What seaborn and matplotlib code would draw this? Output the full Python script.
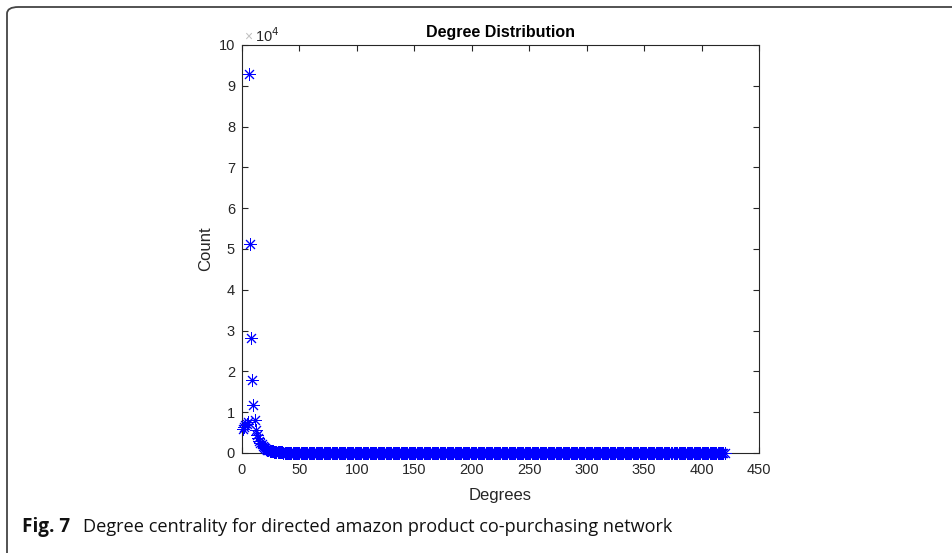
import matplotlib
matplotlib.use("Agg")
import matplotlib.pyplot as plt
from matplotlib.patches import FancyBboxPatch
import numpy as np
import pandas as pd
import seaborn as sns

# Node counts per total degree (amazon co-purchasing network)
head_counts = [
    5900, 6300, 6800, 7200, 7600, 92900, 51200, 28300, 17900, 11800,
    8100, 5600, 4500, 3700, 3000, 2500, 2100, 1750, 1450, 1200,
    1000, 850, 720, 610, 520, 440, 380, 320, 280, 240,
    210, 185, 165, 148, 132, 118, 106, 95, 86, 78,
    71, 65, 60, 55, 50, 46, 43, 40, 37, 34,
    32, 30, 28, 26, 24, 23, 21, 20, 19, 18,
    17, 16, 15, 14, 14, 13, 12, 12, 11, 11,
    10, 10, 9, 9, 9, 8, 8, 8, 7, 7,
    7, 7, 6, 6, 6, 6, 5, 5, 5, 5, 5, 5, 4, 4, 4, 4, 4, 4, 4, 4,
]
tail_counts = [
    3, 4, 3, 3, 4, 3, 3, 3, 3, 3, 3, 2, 3, 3, 3, 2, 3, 3, 2, 3,
    2, 3, 2, 2, 3, 2, 2, 2, 3, 2, 2, 2, 2, 2, 2, 2, 2, 2, 2, 2,
    2, 2, 2, 1, 2, 2, 2, 1, 2, 2, 2, 1, 2, 2, 1, 2, 2, 1, 2, 2,
    1, 2, 1, 2, 1, 1, 2, 1, 1, 2, 1, 1, 2, 1, 1, 1, 2, 1, 1, 1,
    1, 1, 2, 1, 1, 1, 1, 1, 2, 1, 1, 1, 1, 1, 1, 2, 1, 1, 1, 1,
    1, 1, 1, 1, 2, 1, 1, 1, 1, 1, 1, 1, 1, 2, 1, 1, 1, 1, 1, 1,
    1, 1, 1, 1, 1, 1, 2, 1, 1, 1, 1, 1, 1, 1, 1, 1, 1, 1, 2, 1,
    1, 1, 1, 1, 1, 1, 1, 1, 1, 1, 1, 2, 1, 1, 1, 1, 1, 1, 1, 1,
    1, 1, 1, 1, 1, 1, 1, 1, 1, 1, 1, 1, 1, 1, 1, 1, 1, 1, 1, 1,
    1, 1, 1, 1, 1, 1, 1, 2, 1, 1, 1, 1, 1, 1, 1, 1, 1, 1, 1, 1,
    1, 1, 1, 1, 1, 1, 1, 1, 1, 1, 1, 1, 1, 1, 1, 1, 1, 1, 1, 1,
    1, 1, 1, 1, 1, 1, 1, 1, 1, 1, 1, 1, 1, 1, 1, 1, 1, 1, 1, 1,
    1, 1, 1, 1, 1, 1, 1, 1, 1, 1, 1, 1, 1, 1, 1, 1, 1, 1, 1, 1,
    1, 1, 1, 1, 1, 1, 1, 1, 1, 1, 1, 1, 1, 1, 1, 1, 1, 1, 1, 1,
    1, 1, 1, 1, 1, 1, 1, 1, 1, 1, 1, 1, 1, 1, 1, 1, 1, 1, 1, 1,
    1, 1, 1, 1, 1, 1, 1, 1, 1, 1, 1, 1, 1, 1, 1, 1, 1, 1, 1, 1,
]
missing_degrees = [375]

x_ticks = [0, 50, 100, 150, 200, 250, 300, 350, 400, 450]
y_ticks = [0, 1, 2, 3, 4, 5, 6, 7, 8, 9, 10]  # in units of 10^4

counts = head_counts + tail_counts
degrees = np.arange(1, len(counts) + 1)
df = pd.DataFrame({"degree": degrees, "count": counts})
df = df[~df["degree"].isin(missing_degrees)]

sns.set_theme(style="white")
plt.rcParams["font.family"] = ["Liberation Sans", "DejaVu Sans"]

fig = plt.figure(figsize=(9.53, 5.53), dpi=100)
ax = fig.add_axes([242 / 953, 1 - 453 / 553, 517 / 953, 408 / 553])

sns.scatterplot(data=df, x="degree", y="count", ax=ax,
                marker=(8, 2, 0), s=75, color="blue", linewidth=0.7,
                clip_on=False, legend=False, zorder=3)

ink = "#262626"
ax.set_xlim(0, 450)
ax.set_ylim(0, 100000)
ax.set_xticks(x_ticks)
ax.set_xticklabels([str(t) for t in x_ticks])
ax.set_yticks([t * 1e4 for t in y_ticks])
ax.set_yticklabels([str(t) for t in y_ticks])
ax.tick_params(direction="in", length=4, width=0.8, colors=ink,
               labelsize=10.5, top=True, right=True, bottom=True, left=True)
ax.tick_params(axis="x", pad=7)
ax.tick_params(axis="y", pad=5)
for sp in ax.spines.values():
    sp.set_color(ink)
    sp.set_linewidth(0.8)
ax.set_xlabel("Degrees", fontsize=12, color=ink, labelpad=8)
ax.set_ylabel("Count", fontsize=12, color=ink, labelpad=4)
ax.set_title("Degree Distribution", fontsize=11.5, fontweight="bold",
             color="black", pad=6)

# exponent label above the y axis
fig.text(248 / 953, 1 - 37 / 553, "\u00d7", fontsize=10, color="#c0c0c0",
         ha="center", va="center")
fig.text(255 / 953, 1 - 36 / 553, "10$^{4}$", fontsize=10.5, color=ink,
         ha="left", va="center")

# panel frame with rounded corner (open to the right and bottom)
frame = FancyBboxPatch((7 / 953, -0.2), 1.2, 1 - 7 / 553 + 0.2,
                       boxstyle="round,pad=0,rounding_size=0.012",
                       transform=fig.transFigure, fill=False,
                       edgecolor="#444444", linewidth=1.3, clip_on=False)
fig.patches.append(frame)

# caption
fig.text(22 / 953, 1 - 527 / 553, "Fig. 7", fontsize=13.6, fontweight="bold",
         family=["Open Sans", "DejaVu Sans"], color="#111111", va="center")
fig.text(83 / 953, 1 - 527 / 553,
         "Degree centrality for directed amazon product co-purchasing network",
         fontsize=13.1, family=["Open Sans", "DejaVu Sans"], color="#111111",
         va="center")

fig.savefig("out.png", dpi=100)
